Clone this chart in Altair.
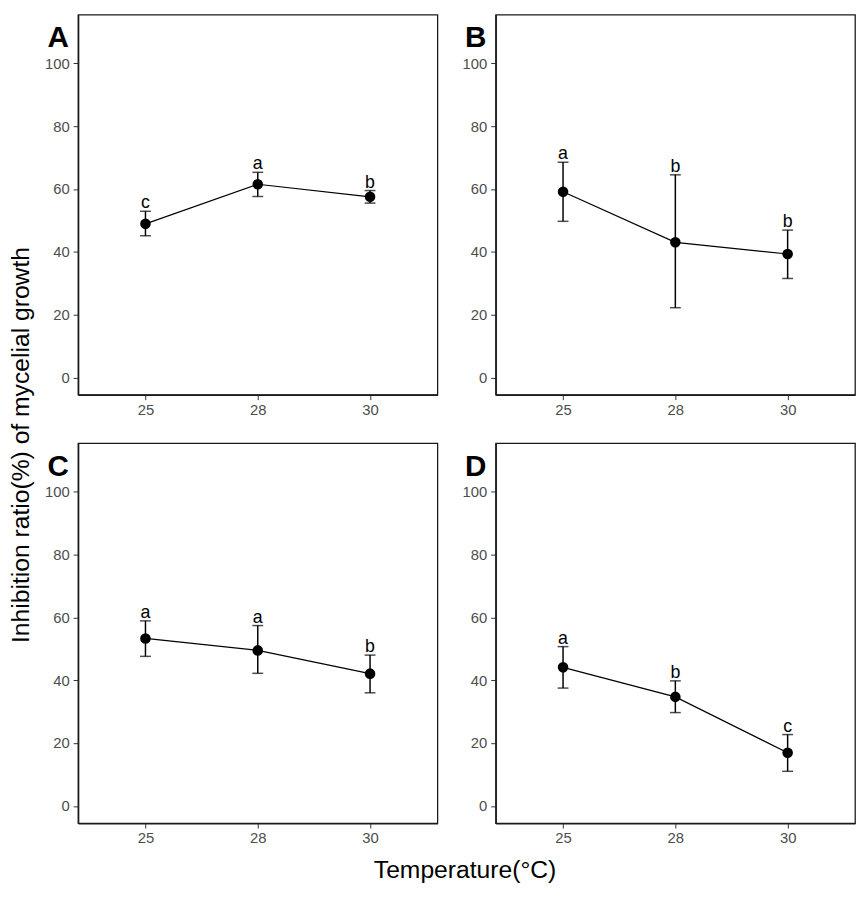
import altair as alt
import pandas as pd

# ---- data ----
temps = ["25", "28", "30"]
panels = ["A", "B", "C", "D"]

mean_A = [48.9, 61.5, 57.5]
upper_A = [52.9, 65.3, 59.5]
lower_A = [45.1, 57.6, 55.5]
letters_A = ["c", "a", "b"]

mean_B = [59.1, 43.0, 39.3]
upper_B = [68.5, 64.5, 46.9]
lower_B = [49.7, 22.2, 31.5]
letters_B = ["a", "b", "b"]

mean_C = [53.3, 49.5, 42.1]
upper_C = [58.9, 57.4, 48.0]
lower_C = [47.6, 42.2, 36.0]
letters_C = ["a", "a", "b"]

mean_D = [44.1, 34.7, 16.9]
upper_D = [50.7, 39.8, 22.7]
lower_D = [37.5, 29.7, 11.0]
letters_D = ["a", "b", "c"]

y_ticks = [0, 20, 40, 60, 80, 100]
y_title = "Inhibition ratio(%) of mycelial growth"
x_title = "Temperature(°C)"

series = {
    "A": (mean_A, upper_A, lower_A, letters_A),
    "B": (mean_B, upper_B, lower_B, letters_B),
    "C": (mean_C, upper_C, lower_C, letters_C),
    "D": (mean_D, upper_D, lower_D, letters_D),
}

FONT = "Liberation Sans"
W = 364
H = 385
INK = "#1a1a1a"


def panel(name):
    m, u, l, let = series[name]
    df = pd.DataFrame({"temp": temps, "mean": m, "upper": u, "lower": l, "letter": let})
    x = alt.X("temp:N", sort=temps, title=None,
              scale=alt.Scale(type="point", padding=0.6),
              axis=alt.Axis(labelAngle=0, labelFontSize=15, labelColor="#4D4D4D",
                            labelFont=FONT, tickSize=5, tickColor="#333333",
                            labelPadding=3, domainColor=INK, domainWidth=1.5,
                            grid=False))
    y = alt.Y("mean:Q", title=None,
              scale=alt.Scale(domain=[-5.5, 115.5], nice=False, zero=False),
              axis=alt.Axis(values=y_ticks, labelFontSize=15, labelColor="#4D4D4D",
                            labelFont=FONT, tickSize=5, tickColor="#333333",
                            labelPadding=4, domainColor=INK, domainWidth=1.5,
                            grid=False))
    base = alt.Chart(df)
    line = base.mark_line(color="black", strokeWidth=1.2).encode(x=x, y=y)
    rule = base.mark_rule(color="black", strokeWidth=1.5).encode(
        x=x, y=alt.Y("lower:Q"), y2="upper:Q")
    cap_hi = base.mark_tick(color="black", thickness=1.5, size=11).encode(x=x, y=alt.Y("upper:Q"))
    cap_lo = base.mark_tick(color="black", thickness=1.5, size=11).encode(x=x, y=alt.Y("lower:Q"))
    pts = base.mark_point(filled=True, color="black", size=115, opacity=1).encode(x=x, y=y)
    txt = base.mark_text(fontSize=18, font=FONT, color="black", baseline="alphabetic",
                         dy=-3).encode(x=x, y=alt.Y("upper:Q"), text="letter:N")
    lab = alt.Chart(pd.DataFrame({"p": [name]})).mark_text(
        fontSize=30, fontWeight="bold", font=FONT, color="black",
        align="left", baseline="alphabetic").encode(
        x=alt.value(-31), y=alt.value(33), text="p:N")
    return alt.layer(line, rule, cap_hi, cap_lo, pts, txt, lab).properties(
        width=W, height=H,
        view=alt.ViewBackground(stroke=INK, strokeWidth=1.3, fill="white"))


row1 = alt.hconcat(panel("A"), panel("B"), spacing=23)
row2 = alt.hconcat(panel("C"), panel("D"), spacing=23)

xt = alt.Chart(pd.DataFrame({"t": [x_title]})).mark_text(
    fontSize=25, font=FONT, color="black", baseline="alphabetic", align="center").encode(
    x=alt.value(392), y=alt.value(27), text="t:N").properties(
    width=780, height=32, view=alt.ViewBackground(stroke="transparent"))

yt = alt.Chart(pd.DataFrame({"t": [y_title]})).mark_text(
    fontSize=25, font=FONT, color="black", baseline="top", align="center",
    angle=270).encode(
    x=alt.value(0), y=alt.value(436), text="t:N").properties(
    width=30, height=830, view=alt.ViewBackground(stroke="transparent"))

grid = alt.vconcat(alt.vconcat(row1, row2, spacing=24), xt, spacing=4)

chart = alt.hconcat(yt, grid, spacing=4).properties(padding=0).configure(
    font=FONT)

chart.save("out.html", embed_options={"renderer": "svg", "actions": False})
